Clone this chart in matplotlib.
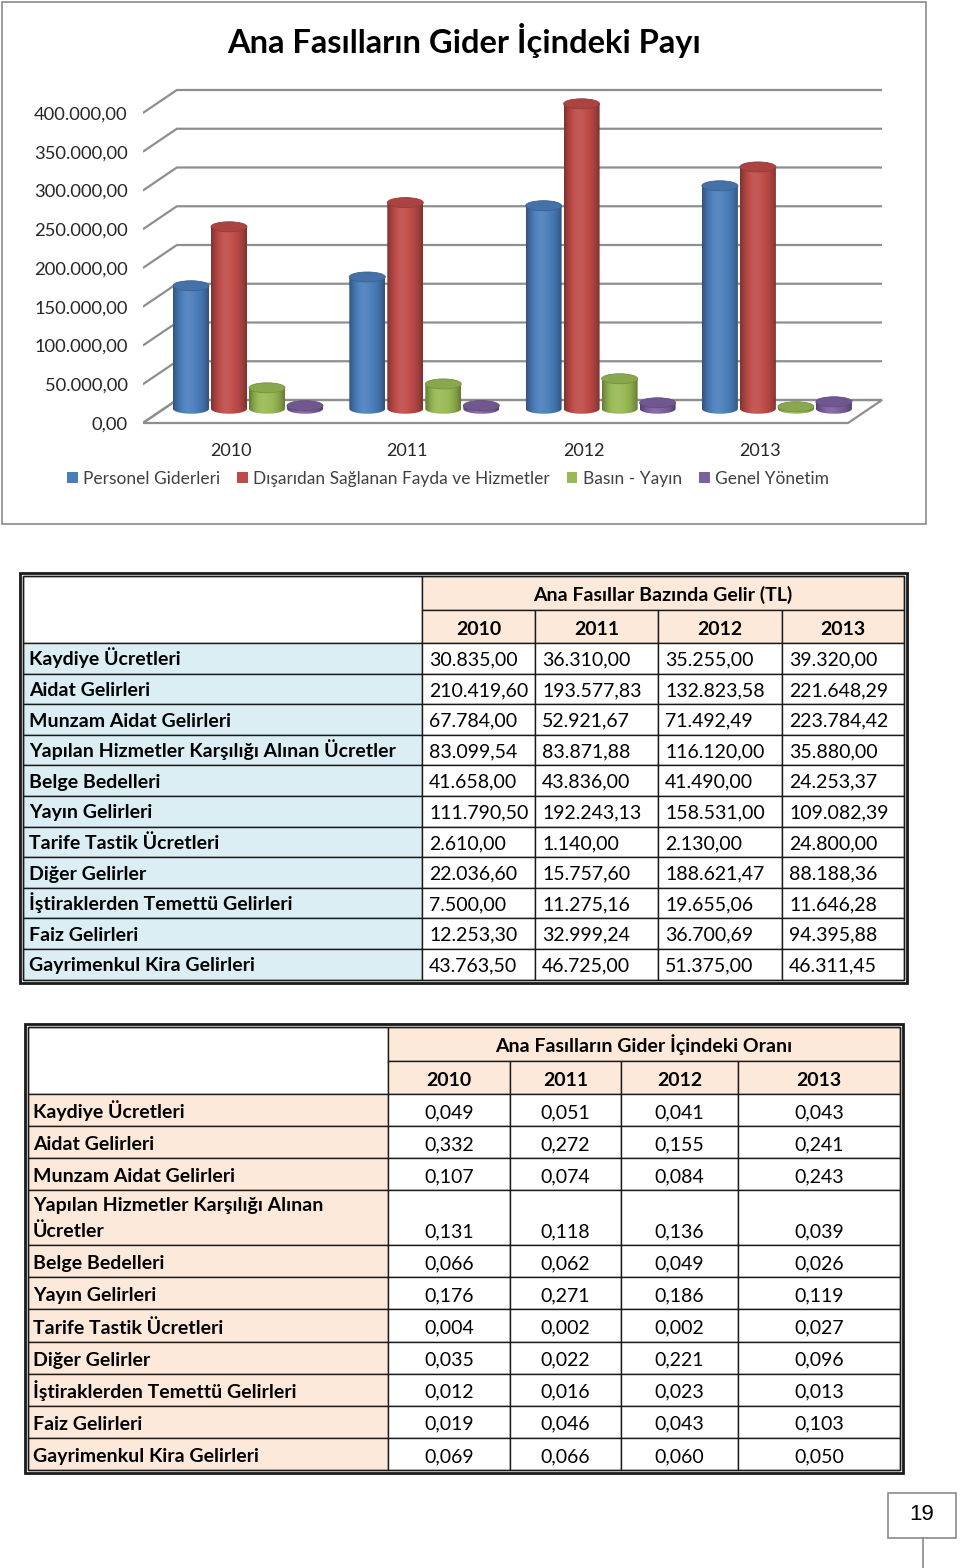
import matplotlib
matplotlib.use('Agg')
import matplotlib.pyplot as plt
import numpy as np
from matplotlib.patches import Rectangle, Ellipse, Polygon, Patch
from matplotlib.colors import to_rgb

plt.rcParams['font.family'] = ['Lato', 'DejaVu Sans']

# ---------------- data ----------------
years = ['2010', '2011', '2012', '2013']
series_names = ['Personel Giderleri', 'Dışarıdan Sağlanan Fayda ve Hizmetler',
                'Basın - Yayın', 'Genel Yönetim']
personel = [158700, 170000, 262000, 287700]
disaridan = [234800, 266000, 393500, 312000]
basin = [27000, 32000, 38700, 2600]
genel = [3900, 4000, 7700, 9000]
series_colors = ['#4A7EBB', '#BE4B48', '#98B954', '#7D60A0']
y_ticks = [0, 50000, 100000, 150000, 200000, 250000, 300000, 350000, 400000]

row_labels = ['Kaydiye Ücretleri', 'Aidat Gelirleri', 'Munzam Aidat Gelirleri',
              'Yapılan Hizmetler Karşılığı Alınan Ücretler', 'Belge Bedelleri',
              'Yayın Gelirleri', 'Tarife Tastik Ücretleri', 'Diğer Gelirler',
              'İştiraklerden Temettü Gelirleri', 'Faiz Gelirleri',
              'Gayrimenkul Kira Gelirleri']
row_labels2 = ['Kaydiye Ücretleri', 'Aidat Gelirleri', 'Munzam Aidat Gelirleri',
               'Yapılan Hizmetler Karşılığı Alınan\nÜcretler', 'Belge Bedelleri',
               'Yayın Gelirleri', 'Tarife Tastik Ücretleri', 'Diğer Gelirler',
               'İştiraklerden Temettü Gelirleri', 'Faiz Gelirleri',
               'Gayrimenkul Kira Gelirleri']
gelir_2010 = [30835.00, 210419.60, 67784.00, 83099.54, 41658.00, 111790.50,
              2610.00, 22036.60, 7500.00, 12253.30, 43763.50]
gelir_2011 = [36310.00, 193577.83, 52921.67, 83871.88, 43836.00, 192243.13,
              1140.00, 15757.60, 11275.16, 32999.24, 46725.00]
gelir_2012 = [35255.00, 132823.58, 71492.49, 116120.00, 41490.00, 158531.00,
              2130.00, 188621.47, 19655.06, 36700.69, 51375.00]
gelir_2013 = [39320.00, 221648.29, 223784.42, 35880.00, 24253.37, 109082.39,
              24800.00, 88188.36, 11646.28, 94395.88, 46311.45]
oran_2010 = [0.049, 0.332, 0.107, 0.131, 0.066, 0.176, 0.004, 0.035, 0.012, 0.019, 0.069]
oran_2011 = [0.051, 0.272, 0.074, 0.118, 0.062, 0.271, 0.002, 0.022, 0.016, 0.046, 0.066]
oran_2012 = [0.041, 0.155, 0.084, 0.136, 0.049, 0.186, 0.002, 0.221, 0.023, 0.043, 0.060]
oran_2013 = [0.043, 0.241, 0.243, 0.039, 0.026, 0.119, 0.027, 0.096, 0.013, 0.103, 0.050]

chart_title = 'Ana Fasılların Gider İçindeki Payı'
table1_title = 'Ana Fasıllar Bazında Gelir (TL)'
table2_title = 'Ana Fasılların Gider İçindeki Oranı'
page_no = '19'


def tr_money(v):
    s = f"{v:,.2f}"
    return s.replace(',', '#').replace('.', ',').replace('#', '.')


def tr_ratio(v):
    return f"{v:.3f}".replace('.', ',')


W, H = 960, 1568
fig = plt.figure(figsize=(W / 100, H / 100), dpi=100)
fig.patch.set_facecolor('white')

# overlay axes in pixel coordinates (layout only)
ov = fig.add_axes([0, 0, 1, 1], zorder=0)
ov.set_xlim(0, W)
ov.set_ylim(H, 0)
ov.axis('off')


def px_axes(l, t, r, b, **kw):
    return fig.add_axes([l / W, 1 - b / H, (r - l) / W, (b - t) / H], **kw)


# ---------------- chart ----------------
ov.add_patch(Rectangle((2, 2), 924, 522, fill=False, edgecolor='#8A8A8A', lw=1.2))
fig.text(464 / W, 1 - 40 / H, chart_title, ha='center', va='center',
         fontsize=23.5, fontweight='bold', color='black')

K = 400000 / 310.0
CAT = 176.3
X0PX = 231
AX_L, AX_T, AX_R, AX_B = 143, 70, 900, 430
ax = px_axes(AX_L, AX_T, AX_R, AX_B, zorder=2)
ax.patch.set_alpha(0)
xlim = ((AX_L - X0PX) / CAT, (AX_R - X0PX) / CAT)
ylim = ((423 - AX_B) * K, (423 - AX_T) * K)

DX = 34 / CAT
DY = 23 * K
fx0, fx1 = -0.5, 3.5
grid_c = '#8E8E8E'

# floor
ax.add_patch(Polygon([(fx0, 0), (fx1, 0), (fx1 + DX, DY), (fx0 + DX, DY)],
                     closed=True, facecolor='white', edgecolor=grid_c, lw=1.6, zorder=1))
# gridlines (side wall + back wall)
for v in y_ticks:
    ax.plot([fx0, fx0 + DX, fx1 + DX], [v, v + DY, v + DY], color=grid_c, lw=1.6,
            zorder=1, solid_capstyle='butt')


def grad_img(color, n=64):
    c = np.array(to_rgb(color))
    t = np.linspace(0, 1, n)
    f = 0.97 + 0.12 * np.exp(-((t - 0.4) / 0.25) ** 2) - 0.32 * np.abs(2 * t - 1) ** 3
    img = np.empty((1, n, 3))
    for i, fi in enumerate(f):
        if fi <= 1:
            img[0, i] = c * fi
        else:
            img[0, i] = c + (1 - c) * (fi - 1)
    return np.clip(img, 0, 1)


BW = 36 / CAT
SP = 38 / CAT
EH = 10 * K
BASE = 0.62 * DY
XOFF = 0.5 * DX
all_series = [personel, disaridan, basin, genel]
z = 3
for i in range(len(years)):
    for k, (vals, col) in enumerate(zip(all_series, series_colors)):
        cx = i + (k - 1.5) * SP + XOFF
        top = BASE + vals[i]
        xl, xr = cx - BW / 2, cx + BW / 2
        t = np.linspace(np.pi, 2 * np.pi, 40)
        arc = np.column_stack([cx + BW / 2 * np.cos(t), BASE + EH / 2 * np.sin(t)])
        verts = np.vstack([[xl, top], arc, [xr, top]])
        clip = Polygon(verts, closed=True, facecolor='none', edgecolor='none', zorder=z)
        ax.add_patch(clip)
        im = ax.imshow(grad_img(col), extent=[xl, xr, BASE - EH / 2, top],
                       aspect='auto', interpolation='bilinear', zorder=z)
        im.set_clip_path(clip)
        c = np.array(to_rgb(col))
        ax.add_patch(Ellipse((cx, top), BW, EH, facecolor=tuple(c * 0.9),
                             edgecolor=tuple(c * 0.78), lw=0.6, zorder=z + 0.5))
        z += 1

ax.set_xlim(*xlim)
ax.set_ylim(*ylim)
ax.set_aspect('auto')
for s in ax.spines.values():
    s.set_visible(False)
ax.set_yticks(y_ticks)
ax.set_yticklabels([tr_money(v) for v in y_ticks], fontsize=13.2, color='#262626')
ax.set_xticks(range(len(years)))
ax.set_xticklabels(years, fontsize=13, color='#262626')
ax.tick_params(axis='y', length=0, pad=11)
ax.tick_params(axis='x', length=0, pad=9)

fig.legend(handles=[Patch(facecolor=c, edgecolor='none') for c in series_colors],
           labels=series_names, loc='center', bbox_to_anchor=(448 / W, 1 - 479 / H),
           ncol=4, frameon=False, handlelength=0.6, handleheight=0.6,
           handletextpad=0.3, columnspacing=1.0, fontsize=12.5, labelcolor='#404040')

# ---------------- tables ----------------
PEACH = '#FDE9D9'
BLUE = '#DAEEF3'
LINE = '#1A1A1A'
FS = 14
BL = 7  # baseline offset below row centre


def double_border(x0, y0, x1, y1):
    ov.add_patch(Rectangle((x0, y0), x1 - x0, y1 - y0, fill=False, edgecolor=LINE, lw=2.0, zorder=5))
    ov.add_patch(Rectangle((x0 + 3, y0 + 3), x1 - x0 - 6, y1 - y0 - 6, fill=False,
                           edgecolor=LINE, lw=1.0, zorder=5))


def cell(x0, y0, x1, y1, fc):
    ov.add_patch(Rectangle((x0, y0), x1 - x0, y1 - y0, facecolor=fc, edgecolor=LINE,
                           lw=1.0, zorder=3))


def txt(x, ybase, s, ha='left', bold=False):
    ov.text(x, ybase, s, ha=ha, va='baseline', fontsize=FS,
            fontweight='bold' if bold else 'normal', zorder=6)


# Table 1
cols1 = [23, 422, 535, 658, 782, 904]
top1 = 576
h_hdr1 = 34
h_hdr2 = 33
rh1 = 30.6
cell(cols1[0], top1, cols1[1], top1 + h_hdr1 + h_hdr2, 'white')
cell(cols1[1], top1, cols1[-1], top1 + h_hdr1, PEACH)
txt((cols1[1] + cols1[-1]) / 2, top1 + h_hdr1 / 2 + BL + 1, table1_title, ha='center', bold=True)
for j, yr in enumerate(years):
    cell(cols1[j + 1], top1 + h_hdr1, cols1[j + 2], top1 + h_hdr1 + h_hdr2, PEACH)
    txt((cols1[j + 1] + cols1[j + 2]) / 2, top1 + h_hdr1 + h_hdr2 / 2 + BL + 1, yr,
        ha='center', bold=True)
y = top1 + h_hdr1 + h_hdr2
cols_vals1 = [gelir_2010, gelir_2011, gelir_2012, gelir_2013]
for r, lab in enumerate(row_labels):
    cell(cols1[0], y, cols1[1], y + rh1, BLUE)
    txt(cols1[0] + 6, y + rh1 / 2 + BL, lab, bold=True)
    for j in range(4):
        cell(cols1[j + 1], y, cols1[j + 2], y + rh1, 'white')
        txt(cols1[j + 1] + 7, y + rh1 / 2 + BL, tr_money(cols_vals1[j][r]))
    y += rh1
double_border(20, 573, 907, y + 3)

# Table 2
cols2 = [28, 388, 510, 621, 738, 900]
top2 = 1027
rh2 = 32.1
rh2_tall = 55
LS = 26
cell(cols2[0], top2, cols2[1], top2 + h_hdr1 + h_hdr2, 'white')
cell(cols2[1], top2, cols2[-1], top2 + h_hdr1, PEACH)
txt((cols2[1] + cols2[-1]) / 2, top2 + h_hdr1 / 2 + BL + 1, table2_title, ha='center', bold=True)
for j, yr in enumerate(years):
    cell(cols2[j + 1], top2 + h_hdr1, cols2[j + 2], top2 + h_hdr1 + h_hdr2, PEACH)
    txt((cols2[j + 1] + cols2[j + 2]) / 2, top2 + h_hdr1 + h_hdr2 / 2 + BL + 1, yr,
        ha='center', bold=True)
y = top2 + h_hdr1 + h_hdr2
cols_vals2 = [oran_2010, oran_2011, oran_2012, oran_2013]
for r, lab in enumerate(row_labels2):
    lines = lab.split('\n')
    h = rh2_tall if len(lines) > 1 else rh2
    cell(cols2[0], y, cols2[1], y + h, PEACH)
    last_base = y + h - rh2 / 2 + BL + 1
    for li, line in enumerate(lines):
        txt(cols2[0] + 5, last_base - (len(lines) - 1 - li) * LS, line, bold=True)
    for j in range(4):
        cell(cols2[j + 1], y, cols2[j + 2], y + h, 'white')
        txt((cols2[j + 1] + cols2[j + 2]) / 2, last_base, tr_ratio(cols_vals2[j][r]),
            ha='center')
    y += h
double_border(25, 1024, 903, y + 3)

# page number box
ov.add_patch(Rectangle((888, 1493), 68, 45, fill=False, edgecolor='#8A8A8A', lw=1.2, zorder=5))
ov.plot([923, 923], [1538, 1568], color='#8A8A8A', lw=1.2, zorder=5)
ov.text(922, 1515, page_no, ha='center', va='center', fontsize=16,
        family=['Liberation Sans', 'DejaVu Sans'], zorder=6)

fig.savefig('out.png', dpi=100, facecolor='white')
